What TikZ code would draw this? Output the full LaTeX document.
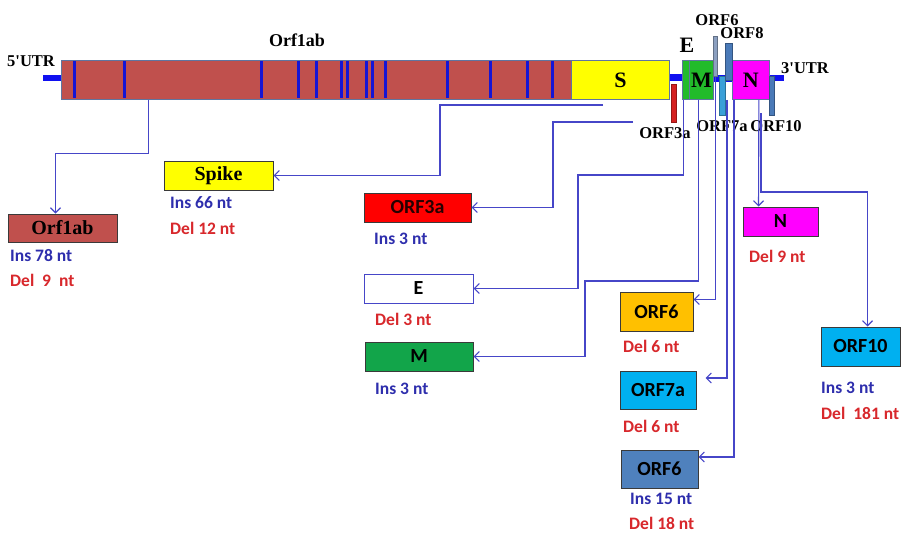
\documentclass[tikz,border=0pt]{standalone}
\usepackage{fontspec}
\setmainfont{Liberation Serif}
\newfontfamily\calib{Carlito}
\usepackage{tikz}
\usetikzlibrary{arrows.meta, positioning}
\definecolor{orfbrown}{HTML}{C0504D}
\definecolor{segline}{HTML}{6075A0}
\definecolor{stubblue}{HTML}{1010F0}
\definecolor{stripeblue}{HTML}{1515D5}
\definecolor{spikeyellow}{HTML}{FFFF00}
\definecolor{envgreen}{HTML}{22BB2A}
\definecolor{nmagenta}{HTML}{FF00FF}
\definecolor{barred}{HTML}{D42020}
\definecolor{barsteel}{HTML}{4A7AB8}
\definecolor{barpale}{HTML}{8CA0C0}
\definecolor{barsky}{HTML}{3AA0D8}
\definecolor{boxred}{HTML}{FF0000}
\definecolor{boxgreen}{HTML}{12A54A}
\definecolor{boxorange}{HTML}{FFC000}
\definecolor{boxcyan}{HTML}{00B0F0}
\definecolor{boxsteel}{HTML}{4F81BD}
\definecolor{boxline}{HTML}{3A3A3A}
\definecolor{linkblue}{HTML}{4646C8}
\definecolor{insblue}{HTML}{2E2EAD}
\definecolor{delred}{HTML}{D8282C}
\tikzset{
  % Genome segments
  segment/.style={
    rectangle, draw=segline, fill=#1, line width=0.8pt, inner sep=0pt,
    anchor=north west, font=\bfseries\fontsize{22}{24}\selectfont,
  },
  segment/.default={orfbrown},
  % Small ORF bars
  orfbar/.style={
    rectangle, draw=#1!70!black, fill=#1, line width=0.6pt, inner sep=0pt,
    anchor=north west,
  },
  orfbar/.default={barsteel},
  % UTR / spacer stubs
  stub/.style={rectangle, fill=stubblue, inner sep=0pt, anchor=north west},
  stripe/.style={draw=stripeblue, line width=3pt},
  % Genome labels
  genelabel/.style={font=\bfseries\fontsize{#1}{#1}\selectfont, inner sep=0pt},
  genelabel/.default={16.5},
  % Result boxes
  resultbox/.style={
    rectangle, draw=boxline, fill=#1, line width=1pt, inner sep=0pt,
    text=black, font=\calib\bfseries\fontsize{20}{22}\selectfont,
  },
  resultbox/.default={white},
  serifbox/.style={font=\bfseries\fontsize{20}{22}\selectfont},
  % Notes under boxes
  insnote/.style={
    font=\calib\bfseries\fontsize{17.5}{19}\selectfont, text=insblue,
    anchor=west, inner sep=0pt,
  },
  delnote/.style={
    font=\calib\bfseries\fontsize{17.5}{19}\selectfont, text=delred,
    anchor=west, inner sep=0pt,
  },
  % Arrows
  link/.style={-{Straight Barb[length=5pt, width=10pt]}, draw=linkblue, line width=1.1pt},
}
\begin{document}
\begin{tikzpicture}[x=1pt, y=-1pt]
  \useasboundingbox[fill=white] (0,0) rectangle (901,533);

  % UTR and spacer stubs
  \node[stub, minimum width=18pt, minimum height=6pt] (utrfive) at (43,75) {};
  \node[stub, minimum width=14pt, minimum height=7pt] (spacerone) at (669,74) {};
  \node[stub, minimum width=19pt, minimum height=7pt] (spacertwo) at (713,75) {};
  \node[stub, minimum width=14pt, minimum height=6pt] (utrthree) at (770,75) {};

  % Genome bar
  \node[segment=orfbrown, minimum width=510pt, minimum height=39pt] (segab) at (61,60) {};
  \foreach \sx in {74,124,261,298,316,341,347,366,372,385,447,490,527,552}
    \draw[stripe] (\sx,61) -- (\sx,98);
  \node[segment=spikeyellow, minimum width=98pt, minimum height=39pt] (segs) at (571,60) {S};
  \node[segment=envgreen, minimum width=7pt, minimum height=39pt] (sege) at (682,60) {};
  \node[segment=envgreen, minimum width=24pt, minimum height=39pt] (segm) at (689,60) {M};
  \node[segment=nmagenta, minimum width=37pt, minimum height=39pt] (segn) at (732,60) {N};

  % Small ORF bars
  \node[orfbar=barred, minimum width=5pt, minimum height=38pt] (barthree) at (671,84) {};
  \node[orfbar=barpale, minimum width=4pt, minimum height=40pt] (barsix) at (713,36) {};
  \node[orfbar=barsky, minimum width=6pt, minimum height=39pt] (barseven) at (719,76) {};
  \node[orfbar=barsteel, minimum width=7pt, minimum height=37pt] (bareight) at (725,43) {};
  \node[orfbar=barsteel, minimum width=5pt, minimum height=39pt] (barten) at (769,76) {};

  % Genome labels
  \node[genelabel] (lblutrfive) at (31,61) {5\textquotesingle UTR};
  \node[genelabel=18] (lblab) at (297,40) {Orf1ab};
  \node[genelabel=22] (lble) at (687,45) {E};
  \node[genelabel] (lblsix) at (717,20) {ORF6};
  \node[genelabel] (lbleight) at (742,33) {ORF8};
  \node[genelabel] (lblutrthree) at (805,68) {3\textquotesingle UTR};
  \node[genelabel] (lblthree) at (665,133) {ORF3a};
  \node[genelabel] (lblseven) at (722,126) {ORF7a};
  \node[genelabel] (lblten) at (776,126) {ORF10};

  % Result boxes
  \node[resultbox=orfbrown, serifbox, minimum width=109pt, minimum height=28pt] (orfab) at (62.5,228) {Orf1ab};
  \node[resultbox=spikeyellow, serifbox, minimum width=109pt, minimum height=29pt] (spike) at (218.5,175.5) {Spike};
  \node[resultbox=boxred, text=black!85!red, minimum width=107pt, minimum height=29pt] (orfthree) at (417.5,207.5) {ORF3a};
  \node[resultbox=white, draw=linkblue, minimum width=109pt, minimum height=29pt] (envbox) at (418.5,288.5) {E};
  \node[resultbox=boxgreen, minimum width=108pt, minimum height=29pt] (membox) at (419,356.5) {M};
  \node[resultbox=boxorange, minimum width=73pt, minimum height=39pt] (orfsix) at (656.5,311.5) {ORF6};
  \node[resultbox=boxcyan, minimum width=76pt, minimum height=38pt] (orfseven) at (658,390) {ORF7a};
  \node[resultbox=boxsteel, minimum width=77pt, minimum height=38pt] (orfeight) at (659.5,469) {ORF6};
  \node[resultbox=nmagenta, minimum width=75pt, minimum height=29pt] (nucbox) at (780.5,221.5) {N};
  \node[resultbox=boxcyan, minimum width=79pt, minimum height=39pt] (orften) at (860.5,346.5) {ORF10};

  % Notes
  \node[insnote] (insab) at (10,256) {Ins 78 nt};
  \node[delnote] (delab) at (10,280) {Del~~9~~nt};
  \node[insnote] (insspike) at (170,203) {Ins 66 nt};
  \node[delnote] (delspike) at (170,228) {Del 12 nt};
  \node[insnote] (insthree) at (374,239) {Ins 3 nt};
  \node[delnote] (delenv) at (375,319) {Del 3 nt};
  \node[insnote] (insmem) at (375,389) {Ins 3 nt};
  \node[delnote] (delsix) at (623,346) {Del 6 nt};
  \node[delnote] (delseven) at (623,426) {Del 6 nt};
  \node[insnote] (inseight) at (630,499) {Ins 15 nt};
  \node[delnote] (deleight) at (629,523) {Del 18 nt};
  \node[delnote] (delnuc) at (749,256) {Del 9 nt};
  \node[insnote] (insten) at (821,388) {Ins 3 nt};
  \node[delnote] (delten) at (821,413) {Del~~181 nt};

  % Connectors
  \coordinate (spkstart) at (603,105);
  \coordinate (thrstart) at (633,122);
  \coordinate (tenstart) at (761,113);
  \draw[link] ([xshift=-168pt]segab.south) -- ++(0,54) -| ([xshift=-7pt]orfab.north);
  \draw[link] (spkstart) -- (440,105) |- (spike.east);
  \draw[link] (thrstart) -- (553,122) |- (orfthree.east);
  \draw[link] ([xshift=-2pt]sege.south) |- (578,175) |- (envbox.east);
  \draw[link] ([xshift=-3pt]segm.south) |- (585,281) |- (membox.east);
  \draw[link] (barsix.south) |- ([yshift=12pt]orfsix.east);
  \draw[link] ([xshift=-5pt]segn.south west) |- ([xshift=9pt, yshift=12pt]orfseven.east);
  \draw[link] ([xshift=2pt]segn.south west) |- ([yshift=12pt]orfeight.east);
  \draw[link] ([xshift=8pt]segn.south) -- ([xshift=-22pt]nucbox.north);
  \draw[link] (tenstart) -- (761,192) -| ([xshift=7pt]orften.north);

\end{tikzpicture}
\end{document}
